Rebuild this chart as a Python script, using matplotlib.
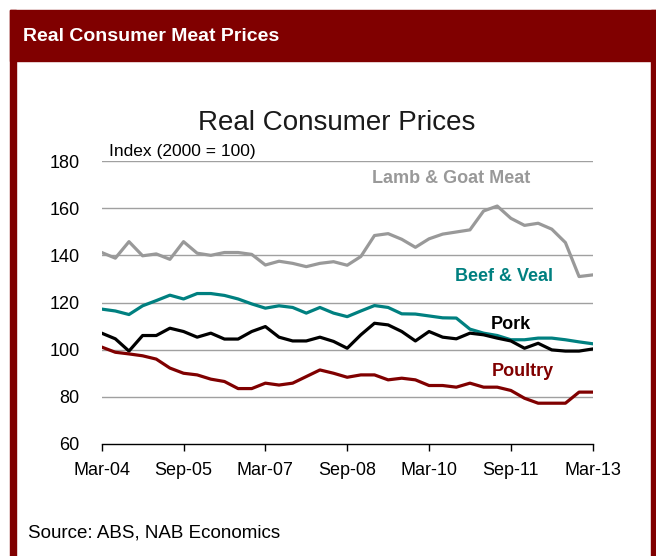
import matplotlib.pyplot as plt
from matplotlib.patches import Rectangle
import numpy as np

plt.rcParams['font.family'] = ['Liberation Sans', 'DejaVu Sans']

# quarterly, Mar-04 .. Mar-13
quarters = np.arange(37)
tick_labels = ['Mar-04', 'Sep-05', 'Mar-07', 'Sep-08', 'Mar-10', 'Sep-11', 'Mar-13']

lamb = [141.2, 138.8, 145.8, 139.8, 140.6, 138.3, 145.8, 140.9, 140.0, 141.2,
        141.2, 140.4, 135.9, 137.5, 136.6, 135.2, 136.6, 137.3, 135.8, 139.5,
        148.4, 149.2, 146.8, 143.4, 147.0, 149.0, 149.9, 150.8, 158.8, 160.9,
        155.7, 152.7, 153.6, 151.1, 145.4, 131.0, 131.7]
beef = [117.2, 116.4, 114.9, 118.6, 120.8, 123.1, 121.5, 123.8, 123.8, 123.0,
        121.5, 119.4, 117.6, 118.6, 117.9, 115.5, 117.9, 115.5, 114.0, 116.4,
        118.7, 117.9, 115.2, 115.1, 114.3, 113.5, 113.4, 108.7, 107.0, 106.0,
        104.2, 104.2, 104.9, 104.9, 104.2, 103.3, 102.5]
pork = [107.0, 104.6, 99.4, 106.0, 106.0, 109.1, 107.7, 105.3, 107.0, 104.5,
        104.5, 107.7, 109.8, 105.3, 103.7, 103.7, 105.3, 103.5, 100.6, 106.3,
        111.2, 110.5, 107.7, 103.7, 107.7, 105.3, 104.6, 107.0, 106.3, 104.9,
        103.7, 100.6, 102.7, 99.9, 99.4, 99.4, 100.3]
poultry = [101.1, 98.9, 98.2, 97.4, 96.0, 92.2, 90.0, 89.3, 87.5, 86.5,
           83.5, 83.5, 85.8, 85.0, 85.8, 88.6, 91.4, 90.0, 88.3, 89.3,
           89.3, 87.2, 87.9, 87.2, 84.8, 84.8, 84.1, 85.8, 84.1, 84.1,
           82.7, 79.4, 77.3, 77.3, 77.3, 82.0, 82.0]

dark_red = '#800000'

fig = plt.figure(figsize=(6.56, 5.56), dpi=100)

# frame + header bar
W, H = 656, 556
fig.patches.append(Rectangle((10 / W, 0), 6 / W, (H - 10) / H, transform=fig.transFigure,
                             color=dark_red, zorder=0))
fig.patches.append(Rectangle((651 / W, 0), 5 / W, (H - 10) / H, transform=fig.transFigure,
                             color=dark_red, zorder=0))
fig.patches.append(Rectangle((10 / W, (H - 61) / H), 646 / W, 51 / H, transform=fig.transFigure,
                             color=dark_red, zorder=0))
fig.text(23 / W, 1 - 41 / H, 'Real Consumer Meat Prices', color='white',
         fontsize=14, fontweight='bold', va='baseline', ha='left')

ax = fig.add_axes([101.7 / W, 112 / H, 491 / W, 283 / H])

ax.plot(quarters, lamb, color='#999999', lw=2.3)
ax.plot(quarters, beef, color='#008080', lw=2.3)
ax.plot(quarters, pork, color='black', lw=2.3)
ax.plot(quarters, poultry, color=dark_red, lw=2.3)

ax.set_xlim(0, 36)
ax.set_ylim(60, 180)
ax.set_yticks(np.arange(60, 181, 20))
ax.set_xticks(np.arange(0, 37, 6))
ax.set_xticklabels(tick_labels)
for g in np.arange(80, 181, 20):
    ax.axhline(g, color='#a0a0a0', lw=1, zorder=0)

for s in ['top', 'right', 'left']:
    ax.spines[s].set_visible(False)
ax.spines['bottom'].set_color('black')
ax.spines['bottom'].set_linewidth(1)
ax.tick_params(axis='x', direction='out', length=5, width=1, labelsize=13, pad=8)
ax.tick_params(axis='y', length=0, labelsize=13, pad=16)

ax.text(25.6, 170.7, 'Lamb & Goat Meat', color='#999999', fontsize=13,
        fontweight='bold', ha='center', va='baseline')
ax.text(29.5, 129.2, 'Beef & Veal', color='#008080', fontsize=13,
        fontweight='bold', ha='center', va='baseline')
ax.text(30.0, 108.7, 'Pork', color='black', fontsize=13,
        fontweight='bold', ha='center', va='baseline')
ax.text(30.9, 88.9, 'Poultry', color=dark_red, fontsize=13,
        fontweight='bold', ha='center', va='baseline')

fig.text(109 / W, 1 - 156 / H, 'Index (2000 = 100)', fontsize=12.5, va='baseline', ha='left')
fig.text(337 / W, 1 - 130 / H, 'Real Consumer Prices', fontsize=20, color='#1a1a1a',
         va='baseline', ha='center')
fig.text(28 / W, 1 - 538 / H, 'Source: ABS, NAB Economics', fontsize=13.5, va='baseline', ha='left')

fig.savefig('out.png', dpi=100)
